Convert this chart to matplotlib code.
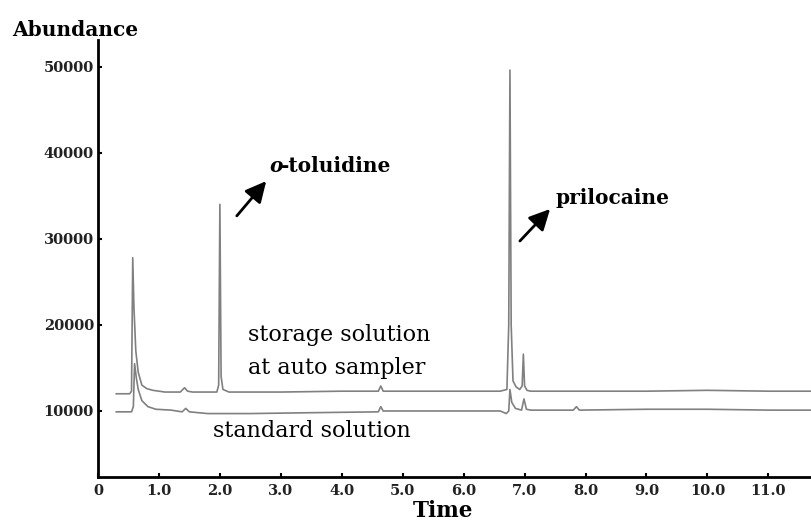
import matplotlib
matplotlib.use("Agg")
import matplotlib.pyplot as plt
from matplotlib.patches import FancyArrowPatch

# ---- data ----
storage_time = [0.30, 0.52, 0.55, 0.57, 0.59, 0.62, 0.66, 0.72, 0.80, 0.90, 1.10,
                1.35, 1.42, 1.47, 1.55, 1.95, 1.98, 2.00, 2.02, 2.05, 2.15, 3.00,
                4.00, 4.60, 4.64, 4.68, 5.50, 6.60, 6.71, 6.74, 6.76, 6.78, 6.81,
                6.86, 6.92, 6.96, 6.98, 7.00, 7.04, 7.10, 8.00, 9.00, 10.00, 11.00, 11.70]
storage_abund = [12000, 12000, 12300, 27800, 22000, 17000, 14500, 13000, 12600, 12400, 12200,
                 12200, 12700, 12300, 12200, 12200, 13000, 34000, 14000, 12500, 12200, 12200,
                 12300, 12300, 12900, 12300, 12300, 12300, 12500, 20000, 49600, 20000, 13500,
                 12800, 12500, 12900, 16600, 12900, 12400, 12300, 12300, 12300, 12400, 12300, 12300]

standard_time = [0.30, 0.55, 0.58, 0.60, 0.63, 0.66, 0.72, 0.82, 0.95, 1.20, 1.38, 1.44,
                 1.50, 1.80, 2.50, 3.50, 4.60, 4.64, 4.68, 5.50, 6.60, 6.70, 6.74, 6.76,
                 6.79, 6.85, 6.95, 6.99, 7.03, 7.10, 7.80, 7.85, 7.90, 9.00, 10.00, 11.00, 11.70]
standard_abund = [9900, 9900, 10500, 15500, 13800, 12500, 11200, 10500, 10200, 10100, 9900, 10300,
                  9900, 9700, 9700, 9800, 9900, 10500, 10000, 10000, 10000, 9700, 10000, 12500,
                  11000, 10300, 10100, 11400, 10200, 10100, 10100, 10500, 10100, 10200, 10200, 10100, 10100]

x_ticks = [0, 1, 2, 3, 4, 5, 6, 7, 8, 9, 10, 11]
x_tick_labels = ["0", "1.0", "2.0", "3.0", "4.0", "5.0", "6.0", "7.0", "8.0", "9.0", "10.0", "11.0"]
y_ticks = [10000, 20000, 30000, 40000, 50000]
y_tick_labels = ["10000", "20000", "30000", "40000", "50000"]

W, H = 811, 523
fig = plt.figure(figsize=(W / 100, H / 100), dpi=100)
plt.rcParams['font.family'] = ['DejaVu Serif']

ax = fig.add_axes([98 / W, (H - 477) / H, (W - 98) / W, (477 - 40) / H])
ax.plot(storage_time, storage_abund, color="#808080", lw=1.2)
ax.plot(standard_time, standard_abund, color="#808080", lw=1.2)

ax.set_xlim(0, 11.7)
ax.set_ylim(2330, 53100)
ax.set_xticks(x_ticks)
ax.set_xticklabels(x_tick_labels)
ax.set_yticks(y_ticks)
ax.set_yticklabels(y_tick_labels)
ax.tick_params(direction="in", length=3, width=1.5, labelsize=10.5, pad=5)
ax.tick_params(axis="y", pad=3)
for lab in ax.get_xticklabels() + ax.get_yticklabels():
    lab.set_fontweight("bold")
    lab.set_color("#222222")

for s in ["top", "right"]:
    ax.spines[s].set_visible(False)
for s in ["left", "bottom"]:
    ax.spines[s].set_linewidth(2)


def fx(px):
    return px / W


def fy(py):
    return 1 - py / H


fig.text(fx(12), fy(30), "Abundance", fontsize=14.5, fontweight="bold", va="center", ha="left")
fig.text(fx(443), fy(511), "Time", fontsize=15.5, fontweight="bold", va="center", ha="center")

fig.text(fx(269), fy(166), "o", fontsize=14.5, fontweight="bold", fontstyle="italic",
         va="center", ha="left")
fig.text(fx(281), fy(166), "-toluidine", fontsize=14.5, fontweight="bold",
         va="center", ha="left")
fig.text(fx(556), fy(198), "prilocaine", fontsize=14.5, fontweight="bold", va="center", ha="left")
fig.text(fx(248), fy(335), "storage solution", fontsize=16, va="center", ha="left")
fig.text(fx(248), fy(368), "at auto sampler", fontsize=16, va="center", ha="left")
fig.text(fx(213), fy(431), "standard solution", fontsize=16, va="center", ha="left")

style = "-|>,head_length=0.9,head_width=0.45"
fig.add_artist(FancyArrowPatch((fx(235), fy(218)), (fx(268), fy(179)),
               transform=fig.transFigure, arrowstyle=style,
               color="black", lw=2, mutation_scale=14))
fig.add_artist(FancyArrowPatch((fx(518), fy(243)), (fx(552), fy(207)),
               transform=fig.transFigure, arrowstyle=style,
               color="black", lw=2, mutation_scale=14))

fig.savefig("out.png", dpi=100)
